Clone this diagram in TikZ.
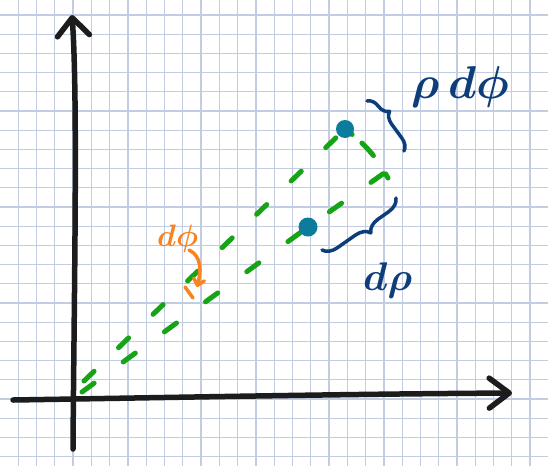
\documentclass[tikz,border=0pt]{standalone}
\usepackage{graphicx}
\usepackage{tikz}
\usetikzlibrary{arrows.meta, decorations.pathreplacing}

\definecolor{gridblue}{RGB}{194,205,225}
\definecolor{inkblack}{RGB}{28,28,28}
\definecolor{inkgreen}{RGB}{22,163,22}
\definecolor{inkorange}{RGB}{247,132,32}
\definecolor{inknavy}{RGB}{14,62,122}
\definecolor{inkteal}{RGB}{12,124,156}

\begin{document}
\begin{tikzpicture}[
    x=1pt, y=-1pt,
    gridline/.style={gridblue, line width=1.3pt},
    axis/.style={inkblack, line width=5.5pt, line cap=round, line join=round},
    ray/.style={inkgreen, line width=5pt, line cap=round},
    dot/.style={circle, fill=inkteal, inner sep=0pt, minimum size=19pt},
    bracemark/.style={inknavy, line width=3.5pt, line cap=round, line join=round, decorate},
    lbl/.style={inner sep=0pt, anchor=base west, font=\boldmath}
]
\useasboundingbox (0,0) rectangle (548,466);
\fill[white] (0,0) rectangle (548,466);

% grid paper
\foreach \i in {1,...,29}
    \draw[gridline] (18.28*\i,0) -- (18.28*\i,466);
\foreach \j in {0,...,23}
    \draw[gridline] (0,15+19.2*\j) -- (548,15+19.2*\j);

% axes
\coordinate (xstart) at (13,400);
\coordinate (xend) at (512,393);
\coordinate (ystart) at (73,449);
\coordinate (yend) at (72,15);
\draw[axis, -{Straight Barb[length=20pt, width=30pt, round]}] (xstart) .. controls (200,397) and (350,394) .. (xend);
\draw[axis, -{Straight Barb[length=18pt, width=32pt, round]}] (ystart) .. controls (74,300) and (78,100) .. (yend);

% rays and arc
\coordinate (o1) at (84,381);
\coordinate (o2) at (82,392);
\coordinate (p) at (308,227);
\coordinate (q) at (345,129);
\coordinate (e) at (387,171);
\coordinate (f) at (388,178);
\draw[ray, dash pattern=on 14pt off 34pt] (o1) -- (q);
\draw[ray, dash pattern=on 15pt off 36pt] (o2) -- (p) -- (e);
\draw[ray, dash pattern=on 9pt off 13pt on 17pt off 22pt on 8pt off 8pt] (q) to[bend left=12] (f);

\node[dot] (rho) at (p) {};
\node[dot, minimum size=18pt] (rhotop) at (q) {};

% braces
\coordinate (b1) at (367,101);
\coordinate (b2) at (404,151);
\coordinate (c1) at (396,198);
\coordinate (c2) at (322,250);
\draw[bracemark, decoration={brace, amplitude=12pt, aspect=0.35}] (b1) -- (b2);
\draw[bracemark, decoration={brace, amplitude=14pt, aspect=0.45}] (c1) -- (c2);

% labels
\node[lbl, inknavy] (arclen) at (411,98) {\scalebox{4.6}{$\rho\,d\phi$}};
\node[lbl, inknavy] (drho) at (363,290) {\scalebox{4.0}{$d\rho$}};
\node[lbl, inkorange] (dphi) at (157,246) {\scalebox{3.1}{$d\phi$}};

% angle arrow
\coordinate (a1) at (189,250);
\coordinate (a2) at (197,287);
\coordinate (t1) at (185,287);
\coordinate (t2) at (193,298);
\draw[inkorange, line width=3.5pt, line cap=round, -{Straight Barb[length=6pt, width=11pt, round]}] (a1) .. controls (202,256) and (201,272) .. (a2);
\draw[inkorange, line width=3.5pt, line cap=round] (t1) -- (t2);
\end{tikzpicture}
\end{document}
